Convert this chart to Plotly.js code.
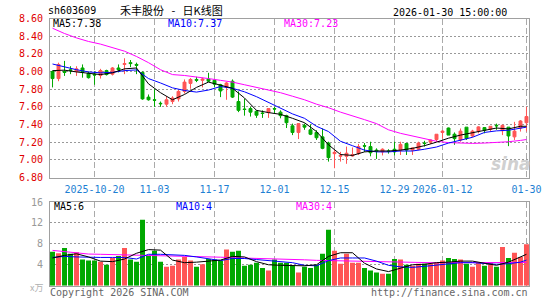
<!DOCTYPE html>
<html>
<head>
<meta charset="utf-8">
<script src="https://cdn.plot.ly/plotly-3.0.1.min.js"></script>
<style>html,body{margin:0;padding:0;background:#fff;}#chart{width:545px;height:300px;}</style>
</head>
<body>
<div id="chart"></div>
<script>
// ---- data ----
const dates = [
 '2025-10-09','2025-10-10','2025-10-13','2025-10-14','2025-10-15','2025-10-16','2025-10-17','2025-10-20','2025-10-21','2025-10-22',
 '2025-10-23','2025-10-24','2025-10-27','2025-10-28','2025-10-29','2025-10-30','2025-10-31','2025-11-03','2025-11-04','2025-11-05',
 '2025-11-06','2025-11-07','2025-11-10','2025-11-11','2025-11-12','2025-11-13','2025-11-14','2025-11-17','2025-11-18','2025-11-19',
 '2025-11-20','2025-11-21','2025-11-24','2025-11-25','2025-11-26','2025-11-27','2025-11-28','2025-12-01','2025-12-02','2025-12-03',
 '2025-12-04','2025-12-05','2025-12-08','2025-12-09','2025-12-10','2025-12-11','2025-12-12','2025-12-15','2025-12-16','2025-12-17',
 '2025-12-18','2025-12-19','2025-12-22','2025-12-23','2025-12-24','2025-12-25','2025-12-26','2025-12-29','2025-12-30','2025-12-31',
 '2026-01-05','2026-01-06','2026-01-07','2026-01-08','2026-01-09','2026-01-12','2026-01-13','2026-01-14','2026-01-15','2026-01-16',
 '2026-01-19','2026-01-20','2026-01-21','2026-01-22','2026-01-23','2026-01-26','2026-01-27','2026-01-28','2026-01-29','2026-01-30'];

const open = [8.00,7.92,8.00,8.02,8.00,8.04,7.98,7.97,7.955,8.01,
 7.97,8.04,8.08,8.10,8.08,7.99,7.71,7.68,7.64,7.63,
 7.66,7.69,7.775,7.865,7.91,7.90,7.915,7.90,7.85,7.82,
 7.89,7.66,7.575,7.58,7.55,7.53,7.535,7.58,7.54,7.50,
 7.385,7.31,7.39,7.34,7.31,7.26,7.19,7.07,7.04,7.04,
 7.044,7.07,7.16,7.15,7.11,7.09,7.10,7.12,7.11,7.185,
 7.11,7.12,7.19,7.20,7.23,7.31,7.36,7.29,7.225,7.37,
 7.27,7.325,7.365,7.345,7.39,7.33,7.37,7.26,7.36,7.42];
const high = [8.01,8.10,8.12,8.06,8.06,8.08,8.00,8.00,8.03,8.02,
 8.05,8.08,8.15,8.13,8.10,8.00,7.74,7.80,7.66,7.72,
 7.72,7.79,7.91,7.925,7.94,7.93,7.985,7.91,7.86,7.88,
 7.91,7.775,7.69,7.60,7.56,7.56,7.58,7.60,7.56,7.51,
 7.41,7.41,7.41,7.40,7.335,7.355,7.205,7.11,7.09,7.15,
 7.14,7.18,7.19,7.205,7.13,7.13,7.12,7.205,7.205,7.19,
 7.14,7.205,7.215,7.23,7.29,7.335,7.365,7.31,7.355,7.37,
 7.34,7.38,7.37,7.38,7.41,7.40,7.37,7.43,7.45,7.60];
const low = [7.82,7.89,7.95,7.97,7.95,7.93,7.92,7.85,7.92,7.955,
 7.955,7.99,7.97,8.05,7.97,7.68,7.67,7.60,7.60,7.60,
 7.63,7.66,7.75,7.805,7.88,7.82,7.88,7.82,7.71,7.68,
 7.70,7.54,7.50,7.49,7.475,7.475,7.475,7.53,7.47,7.36,
 7.28,7.235,7.34,7.28,7.225,7.12,6.98,6.905,6.98,6.955,
 7.035,7.055,7.09,7.04,7.01,7.05,7.07,7.05,7.055,7.055,
 7.055,7.11,7.15,7.18,7.205,7.24,7.28,7.17,7.205,7.225,
 7.255,7.30,7.30,7.32,7.34,7.28,7.155,7.225,7.32,7.32];
const close = [7.92,8.08,7.99,8.01,8.03,7.99,7.93,7.96,8.01,7.965,
 8.04,8.02,8.09,8.09,8.07,7.69,7.68,7.675,7.635,7.68,
 7.70,7.775,7.88,7.91,7.90,7.915,7.89,7.857,7.78,7.87,
 7.71,7.56,7.57,7.54,7.505,7.525,7.58,7.575,7.50,7.42,
 7.31,7.41,7.37,7.29,7.25,7.13,7.025,7.085,7.05,7.075,
 7.06,7.15,7.155,7.08,7.10,7.12,7.095,7.09,7.175,7.11,
 7.135,7.19,7.185,7.225,7.29,7.325,7.28,7.24,7.325,7.24,
 7.325,7.373,7.335,7.38,7.385,7.39,7.27,7.325,7.44,7.49];
// volume, 万手
const volume = [6.5,6.2,7.2,6.1,6.4,5.0,4.8,4.8,4.6,4.0,
 5.3,5.7,7.2,5.0,4.6,12.6,5.7,6.7,4.6,3.6,
 3.8,5.0,5.5,4.8,3.6,4.1,5.1,5.0,4.8,6.9,
 6.5,6.7,3.8,4.0,4.4,3.4,2.9,5.0,4.4,4.4,
 3.8,2.5,3.6,3.4,4.0,6.1,10.7,6.7,4.2,6.1,
 4.4,4.4,3.4,2.9,2.5,2.3,2.3,5.1,5.0,4.0,
 3.8,4.2,4.2,4.2,4.4,4.8,5.3,5.1,5.0,4.2,
 3.6,4.4,3.8,4.4,3.6,7.4,5.3,6.3,5.5,7.9];

// moving averages, at these candle indices
const maIdx = [0,2,4,6,8,10,12,14,16,18,20,22,24,26,28,30,32,34,36,38,
 40,42,44,46,48,50,52,54,56,58,60,62,64,66,68,70,72,74,76,78,79];
const ma5 = [8.01,8.015,7.995,7.98,7.965,7.985,8.03,8.04,7.86,7.76,7.68,7.74,7.82,7.88,7.845,7.81,7.70,7.56,7.535,7.515,
 7.47,7.42,7.32,7.17,7.06,7.05,7.09,7.10,7.10,7.11,7.13,7.16,7.20,7.245,7.28,7.305,7.33,7.36,7.35,7.38,7.38];
const ma10 = [8.085,8.05,8.02,7.995,7.985,7.99,8.01,8.018,7.92,7.87,7.815,7.785,7.767,7.79,7.83,7.81,7.77,7.715,7.65,7.58,
 7.52,7.47,7.38,7.32,7.21,7.16,7.11,7.09,7.09,7.10,7.10,7.12,7.145,7.19,7.224,7.255,7.31,7.328,7.335,7.355,7.37];
const ma30 = [8.49,8.43,8.38,8.34,8.31,8.27,8.23,8.17,8.10,8.02,7.965,7.955,7.94,7.92,7.90,7.88,7.85,7.82,7.79,7.76,
 7.72,7.68,7.63,7.59,7.54,7.50,7.455,7.41,7.34,7.30,7.27,7.235,7.21,7.195,7.187,7.186,7.19,7.195,7.205,7.22,7.23];
const vma5 = [5.3,5.8,6.1,5.5,4.7,4.6,5.1,6.2,6.9,6.8,4.9,4.4,4.5,4.7,4.9,5.6,5.5,4.6,4.0,3.9,
 3.9,3.8,4.0,5.6,6.3,6.3,4.3,3.2,2.7,3.4,4.0,4.1,4.4,4.5,4.7,4.7,4.3,3.9,4.5,5.5,6.0];
const vma10 = [5.4,5.6,5.5,5.4,5.4,5.4,5.4,5.1,6.0,6.0,5.9,5.8,5.5,5.2,4.8,5.2,5.2,5.0,4.8,4.5,
 4.4,3.9,3.8,4.8,5.3,5.3,5.3,4.7,3.9,3.6,3.5,3.7,3.9,4.1,4.4,4.4,4.2,4.1,4.2,4.5,4.9];
const vma30 = [6.75,6.5,6.3,6.05,6.0,5.95,5.9,5.9,5.85,5.8,5.75,5.7,5.6,5.5,5.45,5.35,5.3,5.2,5.15,5.1,
 5.05,4.95,4.85,4.8,4.75,4.7,4.6,4.55,4.5,4.45,4.4,4.4,4.38,4.4,4.42,4.42,4.42,4.42,4.45,4.45,4.45];

const tickDates = ['2025-10-20','2025-11-03','2025-11-17','2025-12-01','2025-12-15','2025-12-29','2026-01-12','2026-01-30'];
const tickLabels = ['2025-10-20','11-03','11-17','12-01','12-15','12-29','2026-01-12','01-30'];
const priceTicks = [6.8,7.0,7.2,7.4,7.6,7.8,8.0,8.2,8.4,8.6];
const volTicks = [4,8,12,16];

// ---- styles ----
const RED = '#ff5555', GREEN = '#00a800';
const MONO = 'DejaVu Sans Mono';
const W = 545, H = 300, ML = 50, MR = 16;
const px = v => (v - ML) / (W - ML - MR);
const py = v => (H - v) / H;

const maX = maIdx.map(i => dates[i]);
const volColors = close.map((c, i) => c >= open[i] ? RED : GREEN);

const traces = [
  {type:'candlestick', x:dates, open:open, high:high, low:low, close:close,
   xaxis:'x', yaxis:'y', hoverinfo:'none', whiskerwidth:0,
   increasing:{line:{color:RED,width:1}, fillcolor:RED},
   decreasing:{line:{color:GREEN,width:1}, fillcolor:GREEN}},
  {type:'scatter', mode:'lines', x:maX, y:ma30, xaxis:'x', yaxis:'y', line:{color:'#ff00ff', width:1}, hoverinfo:'none'},
  {type:'scatter', mode:'lines', x:maX, y:ma10, xaxis:'x', yaxis:'y', line:{color:'#0000ff', width:1}, hoverinfo:'none'},
  {type:'scatter', mode:'lines', x:maX, y:ma5, xaxis:'x', yaxis:'y', line:{color:'#000000', width:1}, hoverinfo:'none'},
  {type:'bar', x:dates, y:volume, xaxis:'x2', yaxis:'y2', width:0.83, marker:{color:volColors, line:{width:0}}, hoverinfo:'none'},
  {type:'scatter', mode:'lines', x:maX, y:vma30, xaxis:'x2', yaxis:'y2', line:{color:'#ff00ff', width:1}, hoverinfo:'none'},
  {type:'scatter', mode:'lines', x:maX, y:vma10, xaxis:'x2', yaxis:'y2', line:{color:'#0000ff', width:1}, hoverinfo:'none'},
  {type:'scatter', mode:'lines', x:maX, y:vma5, xaxis:'x2', yaxis:'y2', line:{color:'#000000', width:1}, hoverinfo:'none'}
];

const frame = {showline:true, mirror:true, linecolor:'#a0a0a0', linewidth:1, zeroline:false, fixedrange:true};
const xr = [-0.42, 79.42];

const ann = (text, x, y, xanchor, color, size, extra) => Object.assign({
  text:text, xref:'paper', yref:'paper', x:px(x), y:py(y), xanchor:xanchor, yanchor:'middle',
  showarrow:false, font:{family:MONO, size:size||10, color:color||'#000'}, borderpad:0
}, extra||{});

const layout = {
  width:W, height:H, margin:{l:ML, r:MR, t:0, b:0, pad:0},
  paper_bgcolor:'#fff', plot_bgcolor:'#fff', showlegend:false,
  font:{family:MONO, size:10, color:'#000'},
  xaxis:Object.assign({}, frame, {type:'category', categoryorder:'array', categoryarray:dates, range:xr,
    anchor:'y', tickvals:tickDates, ticktext:tickLabels, ticks:'', ticklabelstandoff:2,
    tickfont:{family:MONO, size:10, color:'#1e7fd3'},
    showgrid:true, gridcolor:'#aaaaaa', griddash:'6px,3px', gridwidth:1,
    rangeslider:{visible:false}}),
  yaxis:Object.assign({}, frame, {domain:[py(177.5), py(18.5)], range:[6.8, 8.6], tickvals:priceTicks,
    tickformat:'.2f', ticks:'', ticklabelstandoff:4,
    tickfont:{family:MONO, size:10, color:'#e00000'},
    showgrid:true, gridcolor:'#999999', griddash:'2px,2px', gridwidth:1}),
  xaxis2:Object.assign({}, frame, {type:'category', categoryorder:'array', categoryarray:dates, range:xr,
    anchor:'y2', tickvals:tickDates, showticklabels:false, ticks:'',
    showgrid:true, gridcolor:'#aaaaaa', griddash:'6px,3px', gridwidth:1}),
  yaxis2:Object.assign({}, frame, {domain:[py(285.7), py(202)], range:[0, 16], tickvals:volTicks,
    ticks:'', ticklabelstandoff:4,
    tickfont:{family:MONO, size:10, color:'#999999'},
    showgrid:true, gridcolor:'#999999', griddash:'2px,2px', gridwidth:1}),
  annotations:[
    ann('sh603609', 47, 11, 'left', '#000', 10),
    ann('禾丰股份\u00a0\u00a0\u00a0-\u00a0\u00a0\u00a0日K线图', 171, 10, 'center', '#000', 11, {font:{family:'Noto Sans CJK SC', size:11, color:'#000'}}),
    ann('2026-01-30 15:00:00', 508, 12, 'right', '#000', 10),
    ann('MA5:7.38', 52, 24, 'left', '#000000', 10),
    ann('MA10:7.37', 167, 24, 'left', '#0000ff', 10),
    ann('MA30:7.23', 283, 24, 'left', '#ff00ff', 10),
    ann('MA5:6', 53, 206, 'left', '#000000', 10),
    ann('MA10:4', 175, 206, 'left', '#0000ff', 10),
    ann('MA30:4', 295, 206, 'left', '#ff00ff', 10),
    ann('x万', 44, 287, 'right', '#b0b0b0', 9, {font:{family:'Noto Sans CJK SC', size:9, color:'#b0b0b0'}}),
    ann('Copyright 2026 SINA.COM', 49, 292, 'left', '#666666', 10),
    ann('http://finance.sina.com.cn', 529, 292, 'right', '#666666', 10),
    ann('sina', 511, 164, 'center', '#cccccc', 17, {font:{family:'DejaVu Sans', size:17, color:'#d0d0d0', style:'italic', weight:'bold'}})
  ]
};

Plotly.newPlot('chart', traces, layout, {staticPlot:true, displayModeBar:false});
</script>
</body>
</html>
